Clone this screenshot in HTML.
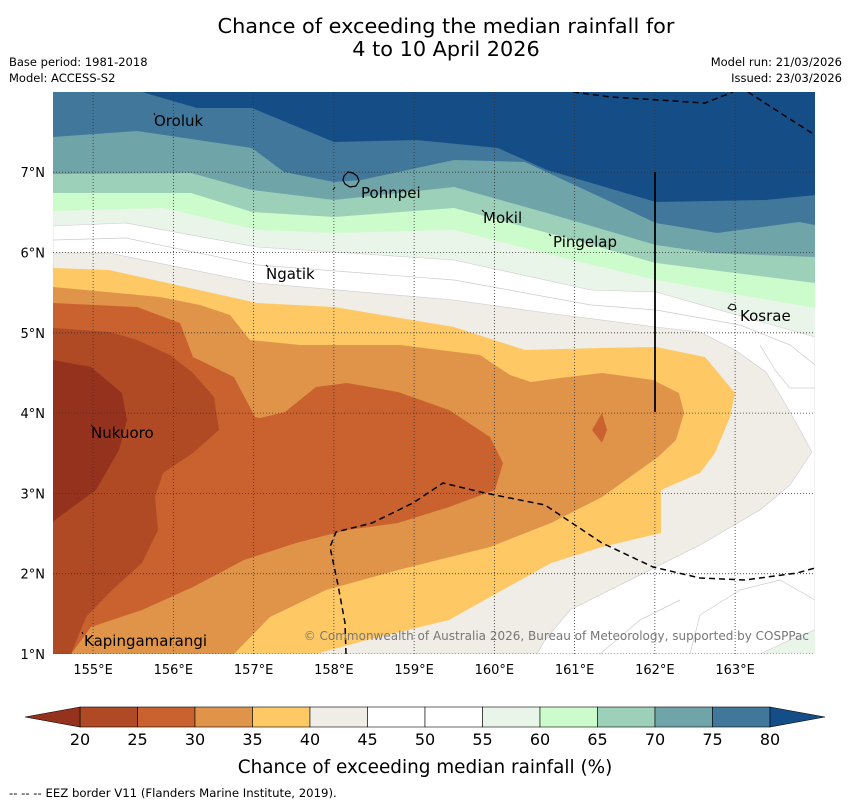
<!DOCTYPE html>
<html><head><meta charset="utf-8"><style>
body{margin:0;background:#fff;width:850px;height:804px;overflow:hidden;font-family:"DejaVu Sans","Liberation Sans",sans-serif}
svg{position:absolute;left:0;top:0}
</style></head><body>
<svg id="s" width="850" height="804" xmlns="http://www.w3.org/2000/svg" font-family="DejaVu Sans, Liberation Sans, sans-serif">
<text x="446" y="33" font-size="20.8" text-anchor="middle">Chance of exceeding the median rainfall for</text>
<text x="446" y="56" font-size="20.8" text-anchor="middle">4 to 10 April 2026</text>
<text x="9" y="66" font-size="11.5">Base period: 1981-2018</text>
<text x="9" y="82" font-size="11.5">Model: ACCESS-S2</text>
<text x="842" y="66" font-size="11.5" text-anchor="end">Model run: 21/03/2026</text>
<text x="842" y="82" font-size="11.5" text-anchor="end">Issued: 23/03/2026</text>
<defs><clipPath id="mc"><rect x="53" y="92" width="762" height="562"/></clipPath></defs>
<g clip-path="url(#mc)" stroke-linejoin="round">
<rect x="53" y="92" width="762" height="562" fill="#154e87"/>
<polygon fill="#41779a" points="53,92 142,92 197,108 252,108 334,142 416,140 498,148 547,170 656,202 766,200 815,195 815,654 53,654"/>
<polygon fill="#6fa5a8" points="53,137 137,131 252,148 284,172 334,182 361,180 454,160 525,162 656,223 717,233 799,222 815,225 815,654 53,654"/>
<polygon fill="#9dd0b9" points="53,174 191,173 252,190 334,200 454,187 547,213 656,245 711,253 815,257 815,654 53,654"/>
<polygon fill="#ccfccc" points="53,193 191,193 252,212 334,217 454,208 574,240 656,263 815,283 815,654 53,654"/>
<polygon fill="#eaf5ea" points="53,211 164,208 257,230 334,233 454,230 580,262 656,280 815,308 815,654 53,654"/>
<polygon fill="#ffffff" stroke="#ccc" stroke-width="0.6" points="53,226 126,223 257,247 454,260 591,290 656,292 815,337 815,630 790,640 760,654 53,654"/>
<polyline fill="none" stroke="#ccc" stroke-width="0.7" points="53,240 126,238 257,265 454,280 591,305 656,310 740,325 790,345 815,365"/>
<polyline fill="none" stroke="#ccc" stroke-width="0.7" points="815,388 790,388 775,370 760,345"/>
<polyline fill="none" stroke="#ccc" stroke-width="0.7" points="815,600 780,580 740,590 700,615 690,654"/>
<polyline fill="none" stroke="#ccc" stroke-width="0.7" points="600,654 640,620 680,600"/>
<polygon fill="#f0ece6" stroke="#ccc" stroke-width="0.6" points="53,253 109,253 257,283 454,300 547,313 656,327 700,332 735,350 766,372 786,405 800,430 812,452 790,485 760,510 700,545 664,563 610,590 570,610 545,640 537,654 53,654"/>
<polygon fill="#fec965" points="53,268 109,270 257,303 334,307 454,327 525,350 600,348 656,347 705,357 735,393 730,417 715,453 700,473 661,490 661,533 602,547 551,563 490,597 449,620 367,640 316,654 53,654"/>
<polygon fill="#e0944a" points="53,287 160,297 200,305 230,315 250,340 300,345 400,345 480,355 510,375 531,382 560,378 602,373 653,380 679,393 684,413 676,440 658,457 602,497 551,523 490,547 398,570 326,590 270,617 234,654 53,654"/>
<polygon fill="#c9622f" points="53,303 137,307 180,323 193,357 234,377 255,417 260,418 285,412 316,387 347,383 398,392 449,410 490,437 503,463 495,490 449,507 398,523 347,530 296,543 244,560 193,587 142,610 91,627 71,654 53,654"/>
<polygon fill="#c9622f" points="602,413 607,430 602,443 592,430"/>
<polygon fill="#b04a25" points="53,328 110,332 137,340 170,355 193,373 214,397 219,430 193,453 163,473 155,497 158,530 142,563 112,590 86,617 71,654 53,654"/>
<polygon fill="#94321e" points="53,360 91,367 122,393 127,420 119,450 96,490 55,520 53,523"/>
<g id="grid" stroke="#333" stroke-width="0.8" stroke-dasharray="1,2"></g>
<polyline fill="none" stroke="#000" stroke-width="1.5" stroke-dasharray="6,4" points="573,92 611,97 705,103 733,92"/>
<polyline fill="none" stroke="#000" stroke-width="1.5" stroke-dasharray="6,4" points="748,92 782,114 815,135"/>
<polyline fill="none" stroke="#000" stroke-width="1.5" stroke-dasharray="6,4" points="346,654 345,623 338,585 330,547 336,532 372,523 413,503 443,483 485,493 545,505 602,543 653,567 700,578 745,580 797,573 815,568"/>
<line x1="655" y1="172" x2="655" y2="412" stroke="#000" stroke-width="1.8"/>
<path d="M344,176 l4,-4 l5,1 l4,3 l2,5 l-3,5 l-6,1 l-5,-3 l-2,-4z" fill="none" stroke="#000" stroke-width="1.2"/>
<path d="M728,308 l3,-4 l4,1 l1,4 l-4,1z" fill="none" stroke="#000" stroke-width="1"/>
<g stroke="#000" stroke-width="1">
<line x1="154" y1="113" x2="155" y2="115"/><line x1="482" y1="210" x2="484" y2="212"/><line x1="549" y1="234" x2="551" y2="236"/>
<line x1="266" y1="265" x2="268" y2="267"/><line x1="91" y1="425" x2="93" y2="427"/><line x1="82" y1="632" x2="83" y2="634"/>
<line x1="333" y1="190" x2="335" y2="187"/></g>
<text x="809" y="640" font-size="12" fill="#777" text-anchor="end">© Commonwealth of Australia 2026, Bureau of Meteorology, supported by COSPPac</text>
</g>
<g font-size="15" fill="#000">
<text x="154" y="126">Oroluk</text><text x="361" y="198">Pohnpei</text><text x="483" y="223">Mokil</text>
<text x="553" y="247">Pingelap</text><text x="266" y="279">Ngatik</text><text x="740" y="321">Kosrae</text>
<text x="91" y="438">Nukuoro</text><text x="84" y="646">Kapingamarangi</text>
</g>
<g id="axes" font-size="13"></g>
<g id="cbar"></g>
<text x="425" y="773" font-size="18.4" text-anchor="middle">Chance of exceeding median rainfall (%)</text>
<text x="9" y="797" font-size="11.7">--  --  -- EEZ border V11 (Flanders Marine Institute, 2019).</text>
</svg>
<script>
const lonTicks=[155,156,157,158,159,160,161,162,163];
const latTicks=[1,2,3,4,5,6,7];
const levels=[20,25,30,35,40,45,50,55,60,65,70,75,80];
const bandColors=["#b04a25","#c9622f","#e0944a","#fec965","#f0ece6","#ffffff","#ffffff","#eaf5ea","#ccfccc","#9dd0b9","#6fa5a8","#41779a"];
const underColor="#94321e", overColor="#154e87";
const NS="http://www.w3.org/2000/svg";
const xLon=l=>53+(l-154.5)*80.25;
const yLat=l=>654-(l-1)*80.3;
function mk(t,a,p){const e=document.createElementNS(NS,t);for(const k in a)e.setAttribute(k,a[k]);p.appendChild(e);return e;}
const grid=document.getElementById('grid'),axes=document.getElementById('axes'),cb=document.getElementById('cbar');
lonTicks.forEach(l=>{const x=xLon(l);
 const g=mk('line',{x1:x,y1:92,x2:x,y2:654},grid);
 
 
 const t=mk('text',{x:x,y:674,'text-anchor':'middle'},axes);t.textContent=l+'°E';
 
 });
latTicks.forEach(l=>{const y=yLat(l);
 const g=mk('line',{x1:53,y1:y,x2:815,y2:y},grid);
 
 
 const t=mk('text',{x:45,y:y+5,'text-anchor':'end'},axes);t.textContent=l+'°N';
 
 });
const cx=v=>80+(v-20)*(690/60), cy0=707, cy1=727;
for(let i=0;i<bandColors.length;i++){
 const r=mk('rect',{x:cx(levels[i]),y:cy0,width:cx(levels[i+1])-cx(levels[i]),height:20,fill:bandColors[i],stroke:'#000','stroke-width':0.6},cb);
 
 }
const lt=mk('polygon',{points:`${cx(20)},${cy0} 25,717 ${cx(20)},${cy1}`,fill:underColor,stroke:'#000','stroke-width':0.6},cb);


const rt=mk('polygon',{points:`${cx(80)},${cy0} 825,717 ${cx(80)},${cy1}`,fill:overColor,stroke:'#000','stroke-width':0.6},cb);


levels.forEach(v=>{const t=mk('text',{x:cx(v),y:745,'font-size':16,'text-anchor':'middle'},cb);t.textContent=v;
 
 });
</script>
</body></html>
